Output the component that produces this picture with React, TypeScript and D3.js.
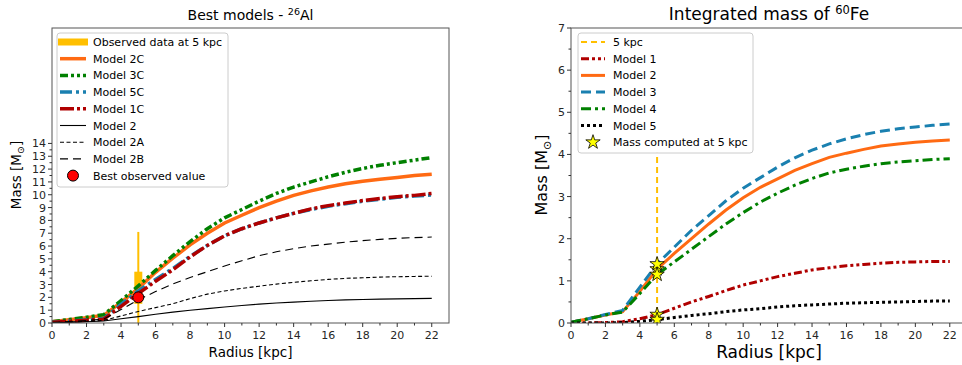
import React from 'react';
import * as d3 from 'd3';

// ---------- data ----------
const radius = [0, 1, 2, 3, 4, 5, 6, 7, 8, 9, 10, 11, 12, 13, 14, 15, 16, 17, 18, 19, 20, 21, 22];

// Left panel: 26Al
const model2C = [0.1, 0.25, 0.42, 0.6, 1.6, 2.7, 3.95, 5.05, 6.1, 7.0, 7.8, 8.4, 9.0, 9.5, 9.95, 10.3, 10.6, 10.85, 11.05, 11.2, 11.35, 11.5, 11.6];
const model3C = [0.1, 0.27, 0.45, 0.65, 1.75, 2.9, 4.1, 5.25, 6.35, 7.35, 8.2, 8.85, 9.5, 10.1, 10.6, 11.0, 11.4, 11.75, 12.05, 12.3, 12.5, 12.7, 12.9];
const model5C = [0.05, 0.15, 0.25, 0.35, 1.45, 2.5, 3.4, 4.25, 5.2, 6.05, 6.8, 7.35, 7.8, 8.2, 8.55, 8.85, 9.1, 9.3, 9.5, 9.65, 9.8, 9.9, 9.98];
const model1C = [0.05, 0.13, 0.22, 0.3, 1.3, 2.3, 3.25, 4.15, 5.15, 6.05, 6.8, 7.35, 7.8, 8.2, 8.55, 8.9, 9.15, 9.35, 9.55, 9.7, 9.85, 9.95, 10.1];
const model2 = [0.02, 0.05, 0.1, 0.15, 0.33, 0.5, 0.68, 0.85, 1.0, 1.12, 1.25, 1.37, 1.47, 1.56, 1.63, 1.7, 1.75, 1.8, 1.83, 1.86, 1.88, 1.9, 1.92];
const model2A = [0.03, 0.08, 0.14, 0.2, 0.55, 0.9, 1.2, 1.5, 1.9, 2.25, 2.5, 2.7, 2.87, 3.03, 3.17, 3.29, 3.4, 3.48, 3.53, 3.58, 3.61, 3.63, 3.65];
const model2B = [0.05, 0.12, 0.2, 0.3, 1.05, 1.8, 2.45, 3.05, 3.55, 4.0, 4.45, 4.85, 5.25, 5.55, 5.8, 6.0, 6.15, 6.3, 6.42, 6.52, 6.6, 6.66, 6.7];
const observedX = 5;
const observedFull = [0, 7.1];
const observedCore = [1.5, 4.0];
const bestObserved = 2.0;

// Right panel: 60Fe
const fe1 = [0, 0, 0.01, 0.03, 0.1, 0.2, 0.35, 0.5, 0.63, 0.77, 0.9, 1.0, 1.1, 1.18, 1.26, 1.31, 1.36, 1.39, 1.42, 1.44, 1.45, 1.46, 1.46];
const fe2 = [0.02, 0.1, 0.19, 0.27, 0.75, 1.28, 1.65, 2.0, 2.35, 2.68, 2.97, 3.22, 3.42, 3.62, 3.78, 3.93, 4.03, 4.12, 4.2, 4.25, 4.29, 4.32, 4.34];
const fe3 = [0.02, 0.1, 0.2, 0.3, 0.85, 1.4, 1.8, 2.2, 2.55, 2.9, 3.2, 3.45, 3.7, 3.92, 4.1, 4.25, 4.37, 4.47, 4.55, 4.61, 4.65, 4.69, 4.72];
const fe4 = [0.02, 0.1, 0.19, 0.26, 0.7, 1.15, 1.45, 1.75, 2.05, 2.35, 2.62, 2.87, 3.08, 3.27, 3.43, 3.56, 3.65, 3.72, 3.78, 3.82, 3.85, 3.88, 3.9];
const fe5 = [0, 0, 0, 0.01, 0.04, 0.08, 0.13, 0.18, 0.22, 0.27, 0.31, 0.34, 0.38, 0.41, 0.43, 0.45, 0.47, 0.48, 0.49, 0.5, 0.51, 0.52, 0.52];
const vlineTop = 4.05;

const xTicksMajor = [0, 2, 4, 6, 8, 10, 12, 14, 16, 18, 20, 22];
const leftYTicks = [0, 1, 2, 3, 4, 5, 6, 7, 8, 9, 10, 11, 12, 13, 14];
const rightYTicks = [0, 1, 2, 3, 4, 5, 6, 7];

const FONT = "'DejaVu Sans', Verdana, sans-serif";
const GOLD = '#ffbf00';
const ORANGE = '#ff6a13';
const GREEN = '#008000';
const BLUE = '#1a80b0';
const RED = '#b00000';

type Series = { name: string; values: number[]; color: string; width: number; dash?: string };

const leftSeries: Series[] = [
  { name: 'Model 2C', values: model2C, color: ORANGE, width: 3.5 },
  { name: 'Model 3C', values: model3C, color: GREEN, width: 3.5, dash: '8,3,3,3,3,3' },
  { name: 'Model 5C', values: model5C, color: BLUE, width: 3.5, dash: '12,4,3,4' },
  { name: 'Model 1C', values: model1C, color: RED, width: 3.5, dash: '14,3,3,3' },
  { name: 'Model 2', values: model2, color: '#000', width: 1.1 },
  { name: 'Model 2A', values: model2A, color: '#000', width: 1.1, dash: '4,2.5' },
  { name: 'Model 2B', values: model2B, color: '#000', width: 1.1, dash: '8,5' },
];

const rightSeries: Series[] = [
  { name: 'Model 1', values: fe1, color: RED, width: 3, dash: '8,3,3,3,3,3' },
  { name: 'Model 2', values: fe2, color: ORANGE, width: 3 },
  { name: 'Model 3', values: fe3, color: BLUE, width: 3, dash: '10,5' },
  { name: 'Model 4', values: fe4, color: GREEN, width: 3, dash: '10,4,3,4' },
  { name: 'Model 5', values: fe5, color: '#000', width: 3, dash: '3,3' },
];

const xL = d3.scaleLinear().domain([0, 23]).range([52, 449]);
const yL = d3.scaleLinear().domain([0, 23]).range([323, 28]);
const xR = d3.scaleLinear().domain([0, 23]).range([571, 967]);
const yR = d3.scaleLinear().domain([0, 7]).range([323, 28]);

const starPath = d3.symbol().type(d3.symbolStar).size(64)() as string;

function Axes({ x, y, yTicks, yMinor, fontSize }: any) {
  const [x0, x1] = x.range();
  const [y0, y1] = y.range();
  const xMinor = d3.range(0, 23, 1).filter((v: number) => v % 2 === 1);
  return (
    <g fontFamily={FONT} fontSize={fontSize} fill="#262626">
      <rect x={x0} y={y1} width={x1 - x0} height={y0 - y1} fill="none" stroke="#555" strokeWidth={1} />
      {xTicksMajor.map((t) => (
        <g key={'xm' + t}>
          <line x1={x(t)} x2={x(t)} y1={y0} y2={y0 + 4} stroke="#333" />
          <text x={x(t)} y={y0 + 16} textAnchor="middle">{t}</text>
        </g>
      ))}
      {xMinor.map((t: number) => (
        <line key={'xn' + t} x1={x(t)} x2={x(t)} y1={y0} y2={y0 + 2.5} stroke="#333" />
      ))}
      {yTicks.map((t: number) => (
        <g key={'ym' + t}>
          <line x1={x0 - 4} x2={x0} y1={y(t)} y2={y(t)} stroke="#333" />
          <text x={x0 - 6} y={y(t) + 4} textAnchor="end">{t}</text>
        </g>
      ))}
      {yMinor.map((t: number) => (
        <line key={'yn' + t} x1={x0 - 2.5} x2={x0} y1={y(t)} y2={y(t)} stroke="#333" />
      ))}
    </g>
  );
}

function LegendHandle({ s, x0, x1, yy }: { s: Series; x0: number; x1: number; yy: number }) {
  return <line x1={x0} x2={x1} y1={yy} y2={yy} stroke={s.color} strokeWidth={s.width} strokeDasharray={s.dash} />;
}

export default function App() {
  const lineL = (vals: number[]) =>
    d3.line<number>().x((_, i) => xL(radius[i])).y((v) => yL(v))(vals) as string;
  const lineR = (vals: number[]) =>
    d3.line<number>().x((_, i) => xR(radius[i])).y((v) => yR(v))(vals) as string;

  const leftMinorY = leftYTicks.slice(0, -1).map((t) => t + 0.5);
  const rightMinorY = rightYTicks.slice(0, -1).map((t) => t + 0.5);

  const leftRows = [42, 58.7, 75.4, 92.1, 108.8, 125.5, 142.2, 158.9, 175.6];
  const rightRows = [42, 58.7, 75.4, 92.1, 108.8, 125.5, 142.2];
  const idx5 = radius.indexOf(observedX);

  return (
    <svg width={962} height={365} style={{ position: 'absolute', left: 0, top: 0, background: '#fff' }}>
      <defs>
        <clipPath id="clipL"><rect x={52} y={28} width={397} height={295} /></clipPath>
        <clipPath id="clipR"><rect x={571} y={28} width={396} height={295} /></clipPath>
      </defs>

      {/* ---------- LEFT PANEL ---------- */}
      <g clipPath="url(#clipL)">
        <line x1={xL(observedX)} x2={xL(observedX)} y1={yL(observedFull[0])} y2={yL(observedFull[1])} stroke={GOLD} strokeWidth={2} />
        <rect x={xL(observedX) - 4} y={yL(observedCore[1])} width={8} height={yL(observedCore[0]) - yL(observedCore[1])} fill={GOLD} />
        {leftSeries.map((s) => (
          <path key={s.name} d={lineL(s.values)} fill="none" stroke={s.color} strokeWidth={s.width} strokeDasharray={s.dash} />
        ))}
        <circle cx={xL(observedX)} cy={yL(bestObserved)} r={5.5} fill="#ff0000" stroke="#000" strokeWidth={1} />
      </g>
      <Axes x={xL} y={yL} yTicks={leftYTicks} yMinor={leftMinorY} fontSize={11} />
      <text x={250.5} y={20} textAnchor="middle" fontFamily={FONT} fontSize={14} fill="#000">
        Best models - <tspan fontSize={9.5} dy={-5}>26</tspan><tspan dy={5}>Al</tspan>
      </text>
      <text x={250.5} y={357} textAnchor="middle" fontFamily={FONT} fontSize={13.5} fill="#000">Radius [kpc]</text>
      <text transform="translate(21,175) rotate(-90)" textAnchor="middle" fontFamily={FONT} fontSize={13.5} fill="#000">
        Mass [M<tspan fontSize={9.5} dy={3}>⊙</tspan><tspan dy={-3}>]</tspan>
      </text>

      {/* left legend */}
      <g fontFamily={FONT} fontSize={11} fill="#000">
        <rect x={57} y={33} width={171} height={154} rx={3} fill="#fff" fillOpacity={0.85} stroke="#ccc" />
        <rect x={58} y={leftRows[0] - 3.5} width={30} height={7} fill={GOLD} />
        <text x={93} y={leftRows[0] + 4}>Observed data at 5 kpc</text>
        {leftSeries.map((s, i) => (
          <g key={'ll' + s.name}>
            <LegendHandle s={s} x0={60} x1={86} yy={leftRows[i + 1]} />
            <text x={93} y={leftRows[i + 1] + 4}>{s.name}</text>
          </g>
        ))}
        <circle cx={73} cy={leftRows[8]} r={5.5} fill="#ff0000" stroke="#000" />
        <text x={93} y={leftRows[8] + 4}>Best observed value</text>
      </g>

      {/* ---------- RIGHT PANEL ---------- */}
      <g clipPath="url(#clipR)">
        <line x1={xR(observedX)} x2={xR(observedX)} y1={yR(0)} y2={yR(vlineTop)} stroke={GOLD} strokeWidth={2} strokeDasharray="6,4" />
        {rightSeries.map((s) => (
          <path key={s.name} d={lineR(s.values)} fill="none" stroke={s.color} strokeWidth={s.width} strokeDasharray={s.dash} />
        ))}
        {rightSeries.map((s) => (
          <path key={'st' + s.name} d={starPath} transform={`translate(${xR(observedX)},${yR(s.values[idx5])})`} fill="#ffff00" stroke="#000" strokeWidth={0.8} />
        ))}
      </g>
      <Axes x={xR} y={yR} yTicks={rightYTicks} yMinor={rightMinorY} fontSize={11} />
      <text x={769} y={20} textAnchor="middle" fontFamily={FONT} fontSize={17} fill="#000">
        Integrated mass of <tspan fontSize={11.5} dy={-6}>60</tspan><tspan dy={6}>Fe</tspan>
      </text>
      <text x={769} y={358} textAnchor="middle" fontFamily={FONT} fontSize={17} fill="#000">Radius [kpc]</text>
      <text transform="translate(547,175) rotate(-90)" textAnchor="middle" fontFamily={FONT} fontSize={16} fill="#000">
        Mass [M<tspan fontSize={11} dy={4}>⊙</tspan><tspan dy={-4}>]</tspan>
      </text>

      {/* right legend */}
      <g fontFamily={FONT} fontSize={11} fill="#000">
        <rect x={578} y={33} width={175} height={120} rx={3} fill="#fff" fillOpacity={0.85} stroke="#ccc" />
        <line x1={581} x2={605} y1={rightRows[0]} y2={rightRows[0]} stroke={GOLD} strokeWidth={2} strokeDasharray="6,4" />
        <text x={613} y={rightRows[0] + 4}>5 kpc</text>
        {rightSeries.map((s, i) => (
          <g key={'rl' + s.name}>
            <LegendHandle s={s} x0={581} x1={605} yy={rightRows[i + 1]} />
            <text x={613} y={rightRows[i + 1] + 4}>{s.name}</text>
          </g>
        ))}
        <path d={starPath} transform={`translate(593,${rightRows[6]})`} fill="#ffff00" stroke="#000" strokeWidth={0.8} />
        <text x={613} y={rightRows[6] + 4}>Mass computed at 5 kpc</text>
      </g>
    </svg>
  );
}
